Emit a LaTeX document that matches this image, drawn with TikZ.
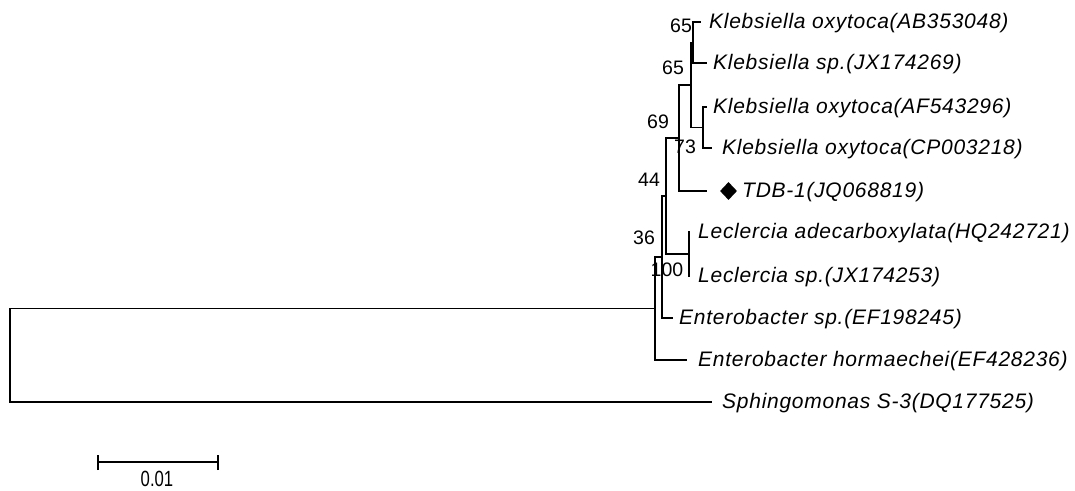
\documentclass[tikz,border=0pt]{standalone}
\usepackage{fontspec}
\setmainfont{Liberation Sans}
\newfontfamily\lblfont[LetterSpace=3.5]{Liberation Sans}
\usetikzlibrary{shapes.geometric}
\begin{document}
\begin{tikzpicture}[x=1pt,y=-1pt,
  br/.style={line width=1.5pt},
  taxon/.style={anchor=base west, inner sep=0pt, font=\lblfont\itshape\fontsize{21}{24}\selectfont},
  boot/.style={inner sep=0pt, font=\fontsize{19.5}{22}\selectfont}
]
\useasboundingbox (0,0) rectangle (1075,490);
% internal nodes
\coordinate (A) at (693,42.5);
\coordinate (C) at (703,127.5);
\coordinate (B) at (691,85);
\coordinate (D) at (679,138);
\coordinate (F) at (689,254);
\coordinate (E) at (666,196);
\coordinate (G) at (662,257);
\coordinate (H) at (655,308.5);
\coordinate (R) at (10,355);
% leaf tips
\coordinate (t1) at (701,22);
\coordinate (t2) at (707,63);
\coordinate (t3) at (707,107);
\coordinate (t4) at (712,148);
\coordinate (t5) at (707,191);
\coordinate (t6) at (690,232);
\coordinate (t7) at (690,276);
\coordinate (t8) at (673,318);
\coordinate (t9) at (687,360);
\coordinate (t10) at (712,402);
% branches
\draw[br] (A) |- (t1);
\draw[br] (A) |- (t2);
\draw[br] (C) |- (t3);
\draw[br] (C) |- (t4);
\draw[br] (B) |- (A);
\draw[br] (B) |- (C);
\draw[br] (D) |- (B);
\draw[br] (D) |- (t5);
\draw[br] (F) |- (t6);
\draw[br] (F) |- (t7);
\draw[br] (E) |- (D);
\draw[br] (E) |- (F);
\draw[br] (G) |- (E);
\draw[br] (G) |- (t8);
\draw[br] (H) |- (G);
\draw[br] (H) |- (t9);
\draw[br] (R) |- (H);
\draw[br] (R) |- (t10);
% taxa
\node[taxon] (n1) at (709,28) {Klebsiella oxytoca(AB353048)};
\node[taxon] (n2) at (713,69) {Klebsiella sp.(JX174269)};
\node[taxon] (n3) at (713,113) {Klebsiella oxytoca(AF543296)};
\node[taxon] (n4) at (722,154) {Klebsiella oxytoca(CP003218)};
\node[diamond, fill=black, inner sep=0pt, minimum width=17pt, minimum height=18pt] (dm) at (728.5,191) {};
\node[taxon] (n5) at (742,197) {TDB-1(JQ068819)};
\node[taxon] (n6) at (698,238) {Leclercia adecarboxylata(HQ242721)};
\node[taxon] (n7) at (698,282) {Leclercia sp.(JX174253)};
\node[taxon] (n8) at (679,324) {Enterobacter sp.(EF198245)};
\node[taxon] (n9) at (698,366) {Enterobacter hormaechei(EF428236)};
\node[taxon] (n10) at (722,408) {Sphingomonas S-3(DQ177525)};
% bootstrap values
\node[boot] (b1) at (681,26) {65};
\node[boot] (b2) at (673,68) {65};
\node[boot] (b3) at (658,122) {69};
\node[boot] (b4) at (685,147) {73};
\node[boot] (b5) at (649,180) {44};
\node[boot] (b6) at (644,238) {36};
\node[boot] (b7) at (667,270) {100};
% scale bar
\coordinate (s1) at (98,462);
\coordinate (s2) at (218,462);
\draw[br] (s1) -- (s2);
\draw[br] ([yshift=-8pt]s1) -- ([yshift=7pt]s1);
\draw[br] ([yshift=-8pt]s2) -- ([yshift=7pt]s2);
\node[boot, font=\fontsize{22}{24}\selectfont, xscale=0.76, transform shape] (sl) at (157,479) {0.01};
\end{tikzpicture}
\end{document}
